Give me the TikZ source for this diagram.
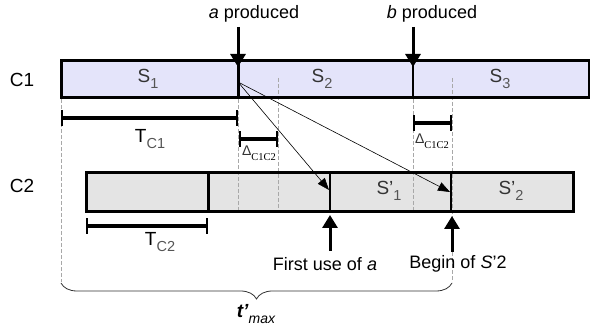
\documentclass[tikz,border=0pt]{standalone}
\usepackage{fontspec}
\setmainfont{Liberation Sans}
\newfontfamily\serifsub{Liberation Serif}
\usepackage{tikz}
\usetikzlibrary{arrows.meta, positioning, decorations.pathreplacing, calc}
\definecolor{chainone}{HTML}{E4E4FA}
\definecolor{chaintwo}{HTML}{E4E4E4}
\definecolor{guidegray}{HTML}{A8A8A8}
\definecolor{labelgray}{HTML}{333333}
\definecolor{subgray}{HTML}{555555}

\newcommand{\lowsub}[1]{\raisebox{-0.55ex}{\fontsize{14.5}{16}\selectfont\color{subgray}#1}}
\newcommand{\deltalab}{{\fontsize{14}{16}\selectfont\color{labelgray}Δ}\raisebox{-0.5ex}{\serifsub\fontsize{10.5}{12}\selectfont C1C2}}
\newcommand{\timespan}[2]{%
  \draw[spanline] (#1) -- (#2);
  \draw[spantick] ([yshift=-8pt]#1) -- ([yshift=8pt]#1) ([yshift=-8pt]#2) -- ([yshift=8pt]#2);}

\tikzset{
  barbox/.style={line width=3pt},
  guide/.style={guidegray, line width=0.6pt, dash pattern=on 4pt off 2pt},
  spanline/.style={line width=3.2pt},
  spantick/.style={line width=1.6pt},
  event/.style={line width=3pt, -{Triangle[length=13pt,width=15pt]}},
  flow/.style={line width=0.6pt, -{Triangle[length=12pt,width=9pt]}},
  seglabel/.style={text=labelgray},
  eventlabel/.style={font=\fontsize{18}{21}\selectfont},
}

\begin{document}
\begin{tikzpicture}[x=1pt, y=-1pt, >=Stealth, font=\fontsize{19}{22}\selectfont]
    \useasboundingbox (0,0) rectangle (590,336);

    % ── BAR FILLS ─────────────────────────────────────────────────────
    \fill[chainone] (61,61) rectangle (589,98);
    \fill[chaintwo] (86,173) rectangle (573,212);

    % ── GUIDES ────────────────────────────────────────────────────────
    \draw[guide] (61,99) -- (61,282);
    \draw[guide] (238,99) -- (238,212);
    \draw[guide] (278,78) -- (278,212);
    \draw[guide] (413,99) -- (413,212);
    \draw[guide] (452,78) -- (452,282);

    % ── CHAIN C1 ──────────────────────────────────────────────────────
    \draw[barbox] (61,61) rectangle (589,98);
    \draw[line width=3pt] (238,61) -- (238,98);
    \draw[line width=2.5pt] (413,61) -- (413,98);
    \node (c1) at (22,80) {C1};
    \node[seglabel] (s1) at (148,79) {S\lowsub{1}};
    \node[seglabel] (s2) at (322,79) {S\lowsub{2}};
    \node[seglabel] (s3) at (500,79) {S\lowsub{3}};

    % ── CHAIN C2 ──────────────────────────────────────────────────────
    \draw[barbox] (86,173) rectangle (573,212);
    \draw[line width=3pt] (208,173) -- (208,212);
    \draw[line width=2.5pt] (330,173) -- (330,212);
    \draw[line width=2pt] (451,173) -- (451,212);
    \node (c2) at (22,186) {C2};
    \node[seglabel] (s1p) at (389,191) {S'\lowsub{1}};
    \node[seglabel] (s2p) at (511,191) {S'\lowsub{2}};

    % ── EVENTS ────────────────────────────────────────────────────────
    \node[eventlabel] (aprod) at (254,14) {\textit{a} produced};
    \node[eventlabel] (bprod) at (432,14) {\textit{b} produced};
    \coordinate (atail) at (238,27);
    \coordinate (ahead) at (238,67);
    \coordinate (btail) at (413,27);
    \coordinate (bhead) at (413,67);
    \draw[event] (atail) -- (ahead);
    \draw[event] (btail) -- (bhead);

    \node[eventlabel] (firstuse) at (325,264) {First use of \textit{a}};
    \node[eventlabel] (begins2) at (458,264) {Begin of \textit{S}'2};
    \coordinate (usetail) at (330,251);
    \coordinate (usehead) at (330,215);
    \coordinate (begtail) at (452,252);
    \coordinate (beghead) at (452,216);
    \draw[event] (usetail) -- (usehead);
    \draw[event] (begtail) -- (beghead);

    % a sent to C2
    \coordinate (asrc) at (238,82);
    \coordinate (ause) at (329,190);
    \coordinate (bstart) at (450,192);
    \draw[flow] (asrc) -- (ause);
    \draw[flow] (asrc) -- (bstart);

    % ── SPANS ─────────────────────────────────────────────────────────
    \coordinate (tc1l) at (62,118);
    \coordinate (tc1r) at (237,118);
    \coordinate (d1l) at (240,139);
    \coordinate (d1r) at (277,139);
    \coordinate (d2l) at (414,123);
    \coordinate (d2r) at (451,123);
    \coordinate (tc2l) at (87,226);
    \coordinate (tc2r) at (207,226);
    \timespan{tc1l}{tc1r}
    \timespan{d1l}{d1r}
    \timespan{d2l}{d2r}
    \timespan{tc2l}{tc2r}
    \node (tc1) at (150,139) {T\lowsub{C1}};
    \node (d1) at (259,153) {\deltalab};
    \node (d2) at (432,141) {\deltalab};
    \node (tc2) at (160,242) {T\lowsub{C2}};

    % ── t'max ─────────────────────────────────────────────────────────
    \draw[decorate, decoration={brace, mirror, amplitude=16pt}, line width=0.8pt, labelgray] (61,283) -- (452,283);
    \node (tmax) at (256,314) {\textbf{\textit{t'}}\raisebox{-0.6ex}{\fontsize{14}{16}\selectfont\itshape max}};
\end{tikzpicture}
\end{document}
